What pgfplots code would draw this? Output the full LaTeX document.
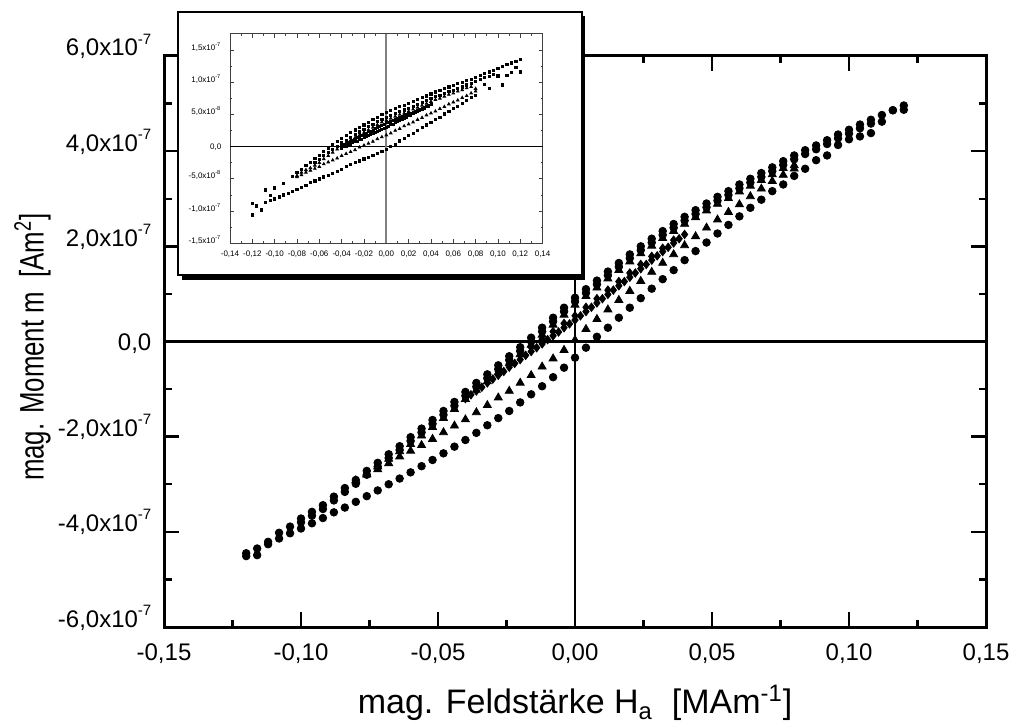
\documentclass[border=0pt]{standalone}
\usepackage{fontspec}
\setmainfont{Liberation Sans}
\usepackage{pgfplots}
\pgfplotsset{compat=1.18}
\newcommand{\sx}[1]{\raisebox{0.5em}{\fontsize{7.5}{8}\selectfont #1}}
\begin{document}
\begin{tikzpicture}
\useasboundingbox (0,0) rectangle (505pt,362pt);
% ================= main axis =================
\begin{axis}[
  at={(82pt,48.5pt)}, anchor=south west,
  width=411pt, height=285.5pt, scale only axis,
  xmin=-0.15, xmax=0.15, ymin=-6, ymax=6,
  xtick={-0.15,-0.1,-0.05,0,0.05,0.1,0.15},
  xticklabels={{-0,15},{-0,10},{-0,05},{0,00},{0,05},{0,10},{0,15}},
  ytick={-6,-4,-2,0,2,4,6},
  yticklabels={{-6,0x10\sx{-7}},{-4,0x10\sx{-7}},{-2,0x10\sx{-7}},{\raisebox{-0.36em}{0,0}},{2,0x10\sx{-7}},{4,0x10\sx{-7}},{6,0x10\sx{-7}}},
  minor x tick num=1, minor y tick num=1,
  tick align=inside,
  major tick length=7.5pt, minor tick length=3.75pt,
  axis line style={line width=1.5pt},
  every tick/.style={black, line width=1.2pt},
  tick label style={font=\fontsize{12}{14}\selectfont},
  xticklabel style={yshift=-5pt},
  yticklabel style={anchor=base east, xshift=-2.8pt},
  xlabel={mag. Feldstärke H\textsubscript{a}~~[MAm\textsuperscript{-1}]},
  ylabel={\scalebox{0.76}[1]{mag. Moment m~~[Am\textsuperscript{2}]}},
  label style={font=\fontsize{17}{20}\selectfont},
  xlabel style={at={(axis description cs:0.5,-0.1331)}, anchor=center},
  ylabel style={at={(axis description cs:-0.1600,0.49)}, anchor=center},
]
\draw[line width=1.2pt] (axis cs:-0.15,0) -- (axis cs:0.15,0);
\draw[line width=1.2pt] (axis cs:0,-6) -- (axis cs:0,6);
% top circles
\addplot[only marks, mark=*, mark size=1.9pt, black] coordinates {
(-0.120,-4.45)(-0.116,-4.35)(-0.112,-4.21)(-0.108,-4.02)(-0.104,-3.89)(-0.100,-3.72)(-0.096,-3.58)(-0.092,-3.44)(-0.088,-3.26)(-0.084,-3.08)(-0.080,-2.91)(-0.076,-2.72)(-0.072,-2.55)(-0.068,-2.37)(-0.064,-2.20)(-0.060,-2.01)(-0.056,-1.83)(-0.052,-1.65)(-0.048,-1.46)(-0.044,-1.27)(-0.040,-1.06)(-0.036,-0.87)(-0.032,-0.69)(-0.028,-0.50)(-0.024,-0.31)(-0.020,-0.12)(-0.016,0.08)(-0.012,0.29)(-0.008,0.50)(-0.004,0.71)(0.000,0.92)(0.004,1.10)(0.008,1.28)(0.012,1.47)(0.016,1.65)(0.020,1.83)(0.024,2.00)(0.028,2.16)(0.032,2.32)(0.036,2.47)(0.040,2.62)(0.044,2.76)(0.048,2.90)(0.052,3.04)(0.056,3.16)(0.060,3.30)(0.064,3.42)(0.068,3.54)(0.072,3.66)(0.076,3.79)(0.080,3.91)(0.084,4.02)(0.088,4.12)(0.092,4.23)(0.096,4.35)(0.100,4.45)(0.104,4.56)(0.108,4.66)(0.112,4.76)(0.116,4.86)(0.120,4.96)
};
% second circles
\addplot[only marks, mark=*, mark size=1.9pt, black] coordinates {
(-0.100,-3.80)(-0.096,-3.66)(-0.092,-3.52)(-0.088,-3.34)(-0.084,-3.16)(-0.080,-2.99)(-0.076,-2.80)(-0.072,-2.63)(-0.068,-2.45)(-0.064,-2.28)(-0.060,-2.09)(-0.056,-1.91)(-0.052,-1.73)(-0.048,-1.54)(-0.044,-1.35)(-0.040,-1.14)(-0.036,-0.95)(-0.032,-0.77)(-0.028,-0.58)(-0.024,-0.39)(-0.020,-0.20)(-0.016,0.00)(-0.012,0.21)(-0.008,0.42)(-0.004,0.63)(0.000,0.84)(0.004,1.02)(0.008,1.20)(0.012,1.39)(0.016,1.57)(0.020,1.75)(0.024,1.92)(0.028,2.08)(0.032,2.24)(0.036,2.39)(0.040,2.54)(0.044,2.68)(0.048,2.82)(0.052,2.96)(0.056,3.08)(0.060,3.22)(0.064,3.34)(0.068,3.46)(0.072,3.58)(0.076,3.71)(0.080,3.83)(0.084,3.94)(0.088,4.04)(0.092,4.15)(0.096,4.27)(0.100,4.37)(0.104,4.48)(0.108,4.58)
};
% triangles upper
\addplot[only marks, mark=triangle*, mark size=2.3pt, black] coordinates {
(-0.076,-2.78)(-0.072,-2.63)(-0.068,-2.47)(-0.064,-2.31)(-0.060,-2.16)(-0.056,-1.98)(-0.052,-1.80)(-0.048,-1.61)(-0.044,-1.42)(-0.040,-1.21)(-0.036,-1.02)(-0.032,-0.84)(-0.028,-0.65)(-0.024,-0.46)(-0.020,-0.27)(-0.016,-0.07)(-0.012,0.14)(-0.008,0.35)(-0.004,0.56)(0.000,0.77)(0.004,0.95)(0.008,1.13)(0.012,1.32)(0.016,1.50)(0.020,1.68)(0.024,1.85)(0.028,2.01)(0.032,2.17)(0.036,2.32)(0.040,2.47)(0.044,2.61)(0.048,2.75)(0.052,2.89)(0.056,3.01)(0.060,3.15)(0.064,3.27)(0.068,3.39)(0.072,3.51)(0.076,3.64)(0.080,3.70)
};
% triangles lower
\addplot[only marks, mark=triangle*, mark size=2.3pt, black] coordinates {
(-0.080,-2.92)(-0.076,-2.80)(-0.072,-2.69)(-0.068,-2.56)(-0.064,-2.42)(-0.060,-2.30)(-0.056,-2.18)(-0.052,-2.05)(-0.048,-1.91)(-0.044,-1.77)(-0.040,-1.64)(-0.036,-1.49)(-0.032,-1.34)(-0.028,-1.18)(-0.024,-1.04)(-0.020,-0.87)(-0.016,-0.71)(-0.012,-0.53)(-0.008,-0.36)(-0.004,-0.18)(0.000,0.03)(0.004,0.26)(0.008,0.47)(0.012,0.67)(0.016,0.87)(0.020,1.06)(0.024,1.27)(0.028,1.46)(0.032,1.65)(0.036,1.83)(0.040,2.02)(0.044,2.21)(0.048,2.39)(0.052,2.56)(0.056,2.72)(0.060,2.88)(0.064,3.05)(0.068,3.21)(0.072,3.37)(0.076,3.50)(0.080,3.63)
};
% diamonds (minor loop)
\addplot[only marks, mark=diamond*, mark size=2.1pt, black] coordinates {
(-0.040,-1.20)(-0.038,-1.12)(-0.036,-1.04)(-0.034,-0.96)(-0.032,-0.87)(-0.030,-0.79)(-0.028,-0.71)(-0.026,-0.63)(-0.024,-0.54)(-0.022,-0.46)(-0.020,-0.38)(-0.018,-0.29)(-0.016,-0.21)(-0.014,-0.13)(-0.012,-0.05)(-0.010,0.04)(-0.008,0.12)(-0.006,0.20)(-0.004,0.29)(-0.002,0.37)(0.000,0.45)(0.002,0.54)(0.004,0.63)(0.006,0.72)(0.008,0.81)(0.010,0.90)(0.012,0.99)(0.014,1.08)(0.016,1.17)(0.018,1.26)(0.020,1.35)(0.022,1.44)(0.024,1.53)(0.026,1.62)(0.028,1.71)(0.030,1.80)(0.032,1.89)(0.034,1.98)(0.036,2.07)(0.038,2.16)(0.040,2.25)
};
\addplot[only marks, mark=diamond*, mark size=2.1pt, black] coordinates {
(-0.036,-0.98)(-0.032,-0.80)(-0.028,-0.63)(-0.024,-0.46)(-0.020,-0.29)(-0.016,-0.12)(-0.012,0.05)(-0.008,0.21)(-0.004,0.38)(0.000,0.54)(0.004,0.72)(0.008,0.90)(0.012,1.08)(0.016,1.26)(0.020,1.44)(0.024,1.62)(0.028,1.79)(0.032,1.96)(0.036,2.13)
};
% lowest circles
\addplot[only marks, mark=*, mark size=1.9pt, black] coordinates {
(-0.120,-4.51)(-0.116,-4.49)(-0.112,-4.26)(-0.108,-4.14)(-0.104,-4.03)(-0.100,-3.93)(-0.096,-3.82)(-0.092,-3.71)(-0.088,-3.59)(-0.084,-3.49)(-0.080,-3.37)(-0.076,-3.25)(-0.072,-3.13)(-0.068,-3.00)(-0.064,-2.88)(-0.060,-2.75)(-0.056,-2.62)(-0.052,-2.49)(-0.048,-2.35)(-0.044,-2.21)(-0.040,-2.07)(-0.036,-1.92)(-0.032,-1.76)(-0.028,-1.61)(-0.024,-1.46)(-0.020,-1.28)(-0.016,-1.11)(-0.012,-0.94)(-0.008,-0.75)(-0.004,-0.55)(0.000,-0.34)(0.004,-0.13)(0.008,0.10)(0.012,0.29)(0.016,0.50)(0.020,0.71)(0.024,0.91)(0.028,1.11)(0.032,1.31)(0.036,1.50)(0.040,1.71)(0.044,1.90)(0.048,2.08)(0.052,2.27)(0.056,2.45)(0.060,2.63)(0.064,2.81)(0.068,2.98)(0.072,3.16)(0.076,3.30)(0.080,3.48)(0.084,3.63)(0.088,3.81)(0.092,3.91)(0.096,4.13)(0.100,4.25)(0.104,4.31)(0.108,4.38)(0.112,4.62)(0.116,4.86)(0.120,4.87)
};
\end{axis}
% ================= inset frame =================
\fill[black] (91pt,222pt) rectangle (292.5pt,354pt);
\filldraw[fill=white, draw=black, line width=0.8pt] (89pt,224.5pt) rectangle (291pt,356pt);
% ================= inset axis =================
\begin{axis}[
  at={(115pt,240.35pt)}, anchor=south west,
  width=156.3pt, height=104.65pt, scale only axis,
  xmin=-0.14, xmax=0.14, ymin=-1.5, ymax=1.75,
  xtick={-0.14,-0.12,-0.10,-0.08,-0.06,-0.04,-0.02,0,0.02,0.04,0.06,0.08,0.10,0.12,0.14},
  xticklabels={{-0,14},{-0,12},{-0,10},{-0,08},{-0,06},{-0,04},{-0,02},{0,00},{0,02},{0,04},{0,06},{0,08},{0,10},{0,12},{0,14}},
  ytick={-1.5,-1,-0.5,0,0.5,1,1.5},
  yticklabels={{-1,5x10\textsuperscript{-7}},{-1,0x10\textsuperscript{-7}},{-5,0x10\textsuperscript{-8}},{\raisebox{-0.36em}{0,0}},{5,0x10\textsuperscript{-8}},{1,0x10\textsuperscript{-7}},{1,5x10\textsuperscript{-7}}},
  minor x tick num=1, minor y tick num=1,
  tick align=inside,
  major tick length=2pt, minor tick length=1pt,
  axis line style={black!75, line width=0.5pt},
  every tick/.style={black!75, line width=0.4pt},
  tick label style={font=\fontsize{4}{5}\selectfont},
  xticklabel style={yshift=-0.5pt},
  yticklabel style={anchor=base east, xshift=-0.8pt},
]
\draw[black, line width=0.5pt] (axis cs:-0.14,0) -- (axis cs:0.14,0);
\draw[black!50, line width=0.9pt] (axis cs:0,-1.5) -- (axis cs:0,1.75);
% outer upper
\addplot[only marks, mark=square*, mark size=0.55pt, black] coordinates {
(-0.120,-0.88)(-0.108,-0.67)(-0.104,-0.76)(-0.100,-0.64)(-0.092,-0.57)(-0.084,-0.46)(-0.080,-0.40)(-0.076,-0.35)(-0.072,-0.29)(-0.068,-0.24)(-0.064,-0.18)(-0.060,-0.13)(-0.056,-0.07)(-0.052,-0.02)(-0.048,0.03)(-0.044,0.08)(-0.040,0.13)(-0.036,0.17)(-0.032,0.22)(-0.028,0.26)(-0.024,0.30)(-0.020,0.34)(-0.016,0.38)(-0.012,0.42)(-0.008,0.46)(-0.004,0.50)(0.000,0.53)(0.004,0.56)(0.008,0.59)(0.012,0.62)(0.016,0.64)(0.020,0.67)(0.024,0.70)(0.028,0.73)(0.032,0.76)(0.036,0.79)(0.040,0.82)(0.044,0.85)(0.048,0.87)(0.052,0.90)(0.056,0.93)(0.060,0.95)(0.064,0.98)(0.068,1.00)(0.072,1.03)(0.076,1.05)(0.080,1.08)(0.084,1.11)(0.088,1.14)(0.092,1.16)(0.096,1.19)(0.100,1.22)(0.104,1.25)(0.108,1.28)(0.112,1.30)(0.116,1.33)(0.120,1.35)
};
% second upper
\addplot[only marks, mark=square*, mark size=0.55pt, black] coordinates {
(-0.064,-0.25)(-0.060,-0.20)(-0.056,-0.14)(-0.052,-0.09)(-0.048,-0.04)(-0.044,0.01)(-0.040,0.06)(-0.036,0.10)(-0.032,0.15)(-0.028,0.19)(-0.024,0.23)(-0.020,0.27)(-0.016,0.31)(-0.012,0.35)(-0.008,0.39)(-0.004,0.43)(0.000,0.46)(0.004,0.49)(0.008,0.52)(0.012,0.55)(0.016,0.57)(0.020,0.60)(0.024,0.63)(0.028,0.66)(0.032,0.69)(0.036,0.72)(0.040,0.75)(0.044,0.78)(0.048,0.80)(0.052,0.83)(0.056,0.86)(0.060,0.88)(0.064,0.91)(0.068,0.93)(0.072,0.96)(0.076,0.98)(0.080,1.01)(0.084,1.04)(0.088,1.07)(0.092,1.09)(0.096,1.12)
};
% triangles upper
\addplot[only marks, mark=triangle*, mark size=0.75pt, black] coordinates {
(-0.080,-0.45)(-0.076,-0.40)(-0.072,-0.36)(-0.068,-0.33)(-0.064,-0.29)(-0.060,-0.25)(-0.056,-0.19)(-0.052,-0.14)(-0.048,-0.09)(-0.044,-0.04)(-0.040,0.01)(-0.036,0.05)(-0.032,0.10)(-0.028,0.14)(-0.024,0.18)(-0.020,0.22)(-0.016,0.26)(-0.012,0.30)(-0.008,0.34)(-0.004,0.38)(0.000,0.41)(0.004,0.44)(0.008,0.47)(0.012,0.50)(0.016,0.52)(0.020,0.55)(0.024,0.58)(0.028,0.61)(0.032,0.64)(0.036,0.67)(0.040,0.70)(0.044,0.73)(0.048,0.75)(0.052,0.78)(0.056,0.81)(0.060,0.83)(0.064,0.86)(0.068,0.88)(0.072,0.91)(0.076,0.93)(0.080,0.90)
};
% triangles lower
\addplot[only marks, mark=triangle*, mark size=0.75pt, black] coordinates {
(-0.080,-0.47)(-0.076,-0.44)(-0.072,-0.40)(-0.068,-0.37)(-0.064,-0.34)(-0.060,-0.31)(-0.056,-0.27)(-0.052,-0.24)(-0.048,-0.21)(-0.044,-0.18)(-0.040,-0.14)(-0.036,-0.11)(-0.032,-0.08)(-0.028,-0.05)(-0.024,-0.01)(-0.020,0.02)(-0.016,0.05)(-0.012,0.08)(-0.008,0.12)(-0.004,0.15)(0.000,0.18)(0.004,0.21)(0.008,0.25)(0.012,0.28)(0.016,0.32)(0.020,0.35)(0.024,0.38)(0.028,0.42)(0.032,0.45)(0.036,0.49)(0.040,0.52)(0.044,0.55)(0.048,0.59)(0.052,0.62)(0.056,0.66)(0.060,0.69)(0.064,0.72)(0.068,0.76)(0.072,0.79)(0.076,0.83)(0.080,0.86)
};
% dense minor loop
\addplot[only marks, mark=square*, mark size=0.5pt, black] coordinates {
(-0.040,-0.02)(-0.038,0.00)(-0.036,0.01)(-0.034,0.03)(-0.032,0.04)(-0.030,0.06)(-0.028,0.08)(-0.026,0.09)(-0.024,0.11)(-0.022,0.12)(-0.020,0.14)(-0.018,0.16)(-0.016,0.17)(-0.014,0.19)(-0.012,0.20)(-0.010,0.22)(-0.008,0.24)(-0.006,0.25)(-0.004,0.27)(-0.002,0.28)(0.000,0.30)(0.002,0.32)(0.004,0.34)(0.006,0.35)(0.008,0.37)(0.010,0.39)(0.012,0.41)(0.014,0.42)(0.016,0.44)(0.018,0.46)(0.020,0.48)(0.022,0.49)(0.024,0.51)(0.026,0.53)(0.028,0.55)(0.030,0.56)(0.032,0.58)(0.034,0.60)(0.036,0.62)(0.038,0.63)(0.040,0.65)
};
\addplot[only marks, mark=square*, mark size=0.5pt, black] coordinates {
(-0.040,0.01)(-0.038,0.03)(-0.036,0.05)(-0.034,0.06)(-0.032,0.08)(-0.030,0.10)(-0.028,0.12)(-0.026,0.14)(-0.024,0.15)(-0.022,0.17)(-0.020,0.19)(-0.018,0.21)(-0.016,0.23)(-0.014,0.24)(-0.012,0.26)(-0.010,0.28)(-0.008,0.30)(-0.006,0.32)(-0.004,0.33)(-0.002,0.35)(0.000,0.37)(0.002,0.38)(0.004,0.40)(0.006,0.41)(0.008,0.43)(0.010,0.44)(0.012,0.45)(0.014,0.47)(0.016,0.48)(0.018,0.50)(0.020,0.51)(0.022,0.52)(0.024,0.54)(0.026,0.55)(0.028,0.57)(0.030,0.58)(0.032,0.59)(0.034,0.61)(0.036,0.62)(0.038,0.64)(0.040,0.65)
};
% outer lower
\addplot[only marks, mark=square*, mark size=0.55pt, black] coordinates {
(-0.120,-1.06)(-0.116,-0.92)(-0.112,-0.98)(-0.108,-0.87)(-0.104,-0.84)(-0.100,-0.81)(-0.096,-0.78)(-0.092,-0.75)(-0.088,-0.72)(-0.084,-0.69)(-0.080,-0.66)(-0.076,-0.63)(-0.072,-0.60)(-0.068,-0.56)(-0.064,-0.53)(-0.060,-0.50)(-0.056,-0.47)(-0.052,-0.44)(-0.048,-0.41)(-0.044,-0.38)(-0.040,-0.35)(-0.036,-0.31)(-0.032,-0.28)(-0.028,-0.25)(-0.024,-0.22)(-0.020,-0.19)(-0.016,-0.16)(-0.012,-0.13)(-0.008,-0.10)(-0.004,-0.07)(0.000,-0.04)(0.004,0.00)(0.008,0.04)(0.012,0.09)(0.016,0.13)(0.020,0.17)(0.024,0.21)(0.028,0.25)(0.032,0.30)(0.036,0.34)(0.040,0.38)(0.044,0.42)(0.048,0.46)(0.052,0.51)(0.056,0.55)(0.060,0.59)(0.064,0.63)(0.068,0.67)(0.072,0.72)(0.076,0.76)(0.080,0.80)(0.088,0.97)(0.092,0.90)(0.100,1.10)(0.104,0.96)(0.108,1.11)(0.112,1.15)(0.116,1.23)(0.120,1.16)
};
\end{axis}
\end{tikzpicture}
\end{document}
